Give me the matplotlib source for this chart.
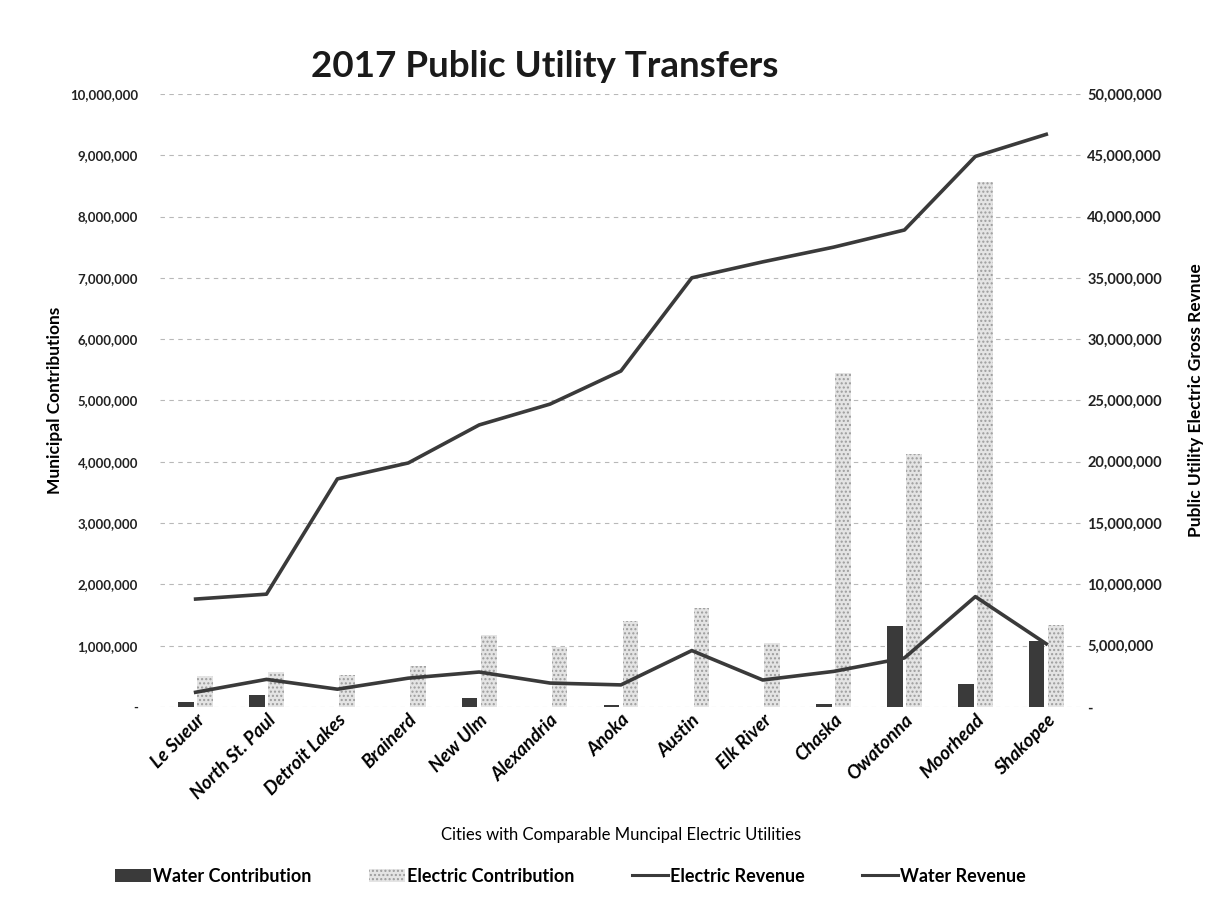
import numpy as np
import matplotlib.pyplot as plt
from matplotlib.ticker import FuncFormatter
from matplotlib.patches import Patch
from matplotlib.lines import Line2D

plt.rcParams['font.family'] = ['Lato', 'DejaVu Sans']
plt.rcParams['hatch.linewidth'] = 1.0

cities = ["Le Sueur", "North St. Paul", "Detroit Lakes", "Brainerd", "New Ulm",
          "Alexandria", "Anoka", "Austin", "Elk River", "Chaska", "Owatonna",
          "Moorhead", "Shakopee"]

# municipal contributions (left axis)
water_contrib = [80000, 190000, 0, 0, 140000, 0, 30000, 0, 0, 50000,
                 1320000, 380000, 1070000]
electric_contrib = [500000, 570000, 520000, 670000, 1170000, 980000, 1400000,
                    1610000, 1040000, 5450000, 4120000, 8560000, 1340000]

# gross revenue (right axis)
electric_rev = [8800000, 9200000, 18600000, 19900000, 23000000, 24700000,
                27400000, 35000000, 36300000, 37500000, 38900000, 44900000,
                46700000]
water_rev = [1200000, 2250000, 1450000, 2350000, 2850000, 1950000, 1800000,
             4600000, 2200000, 2900000, 4000000, 9000000, 5150000]

dark = '#3a3a3a'
x = np.arange(len(cities))

fig = plt.figure(figsize=(12.32, 9.08), dpi=100)
ax = fig.add_axes([0.130, 0.2214, 0.748, 0.6752])
ax2 = ax.twinx()

w = 0.22
off = 0.135
ax.bar(x - off, water_contrib, w, color=dark, zorder=3)
ax.bar(x + off, electric_contrib, w, color='#e4e4e4', hatch='....',
       edgecolor='#9c9c9c', linewidth=0, zorder=3)

ax2.plot(x, electric_rev, color=dark, lw=2.6, zorder=4)
ax2.plot(x, water_rev, color=dark, lw=2.6, zorder=4)

ax.set_ylim(0, 10000000)
ax2.set_ylim(0, 50000000)
ax.set_xlim(-0.5, len(cities) - 0.5)
ax.set_yticks(np.arange(0, 10000001, 1000000))
ax2.set_yticks(np.arange(0, 50000001, 5000000))

def money(v, pos):
    return '-' if v == 0 else '{:,.0f}'.format(v)

ax.yaxis.set_major_formatter(FuncFormatter(money))
ax2.yaxis.set_major_formatter(FuncFormatter(money))

ax.grid(axis='y', color='#b8b8b8', linestyle=(0, (4, 4)), lw=0.8, zorder=0)
ax.set_axisbelow(True)
for a in (ax, ax2):
    for s in a.spines.values():
        s.set_visible(False)
    a.tick_params(length=0)

ax.tick_params(axis='y', labelsize=9.5, pad=16)
ax2.tick_params(axis='y', labelsize=10.5, pad=4)
for t in ax.get_yticklabels() + ax2.get_yticklabels():
    t.set_fontweight('bold')
    t.set_color('#222222')

ax.set_xticks(x)
ax.set_xticklabels(cities, rotation=45, ha='right', rotation_mode='anchor',
                   fontsize=13.5, fontweight='bold', fontstyle='italic')
ax.tick_params(axis='x', pad=3)

ax.set_ylabel('Municipal Contributions', fontsize=12.5, fontweight='bold', labelpad=5)
ax2.set_ylabel('Public Utility Electric Gross Revnue', fontsize=12.5,
               fontweight='bold', labelpad=19)
ax.set_xlabel('Cities with Comparable Muncipal Electric Utilities', fontsize=12,
              labelpad=18)

fig.text(0.442, 0.927, '2017 Public Utility Transfers', fontsize=26.5,
         fontweight='bold', ha='center', va='center', color='#1a1a1a')

handles = [Patch(facecolor=dark, label='Water Contribution'),
           Patch(facecolor='#e4e4e4', hatch='....', edgecolor='#9c9c9c', lw=0,
                 label='Electric Contribution'),
           Line2D([], [], color=dark, lw=2.2, label='Electric Revenue'),
           Line2D([], [], color=dark, lw=2.2, label='Water Revenue')]
fig.legend(handles=handles, loc='center', bbox_to_anchor=(0.463, 0.035), ncol=4,
           frameon=False, prop={'size': 13, 'weight': 'bold'},
           handlelength=2.0, handletextpad=0.1, columnspacing=3.2)

fig.savefig('out.png', dpi=100)
